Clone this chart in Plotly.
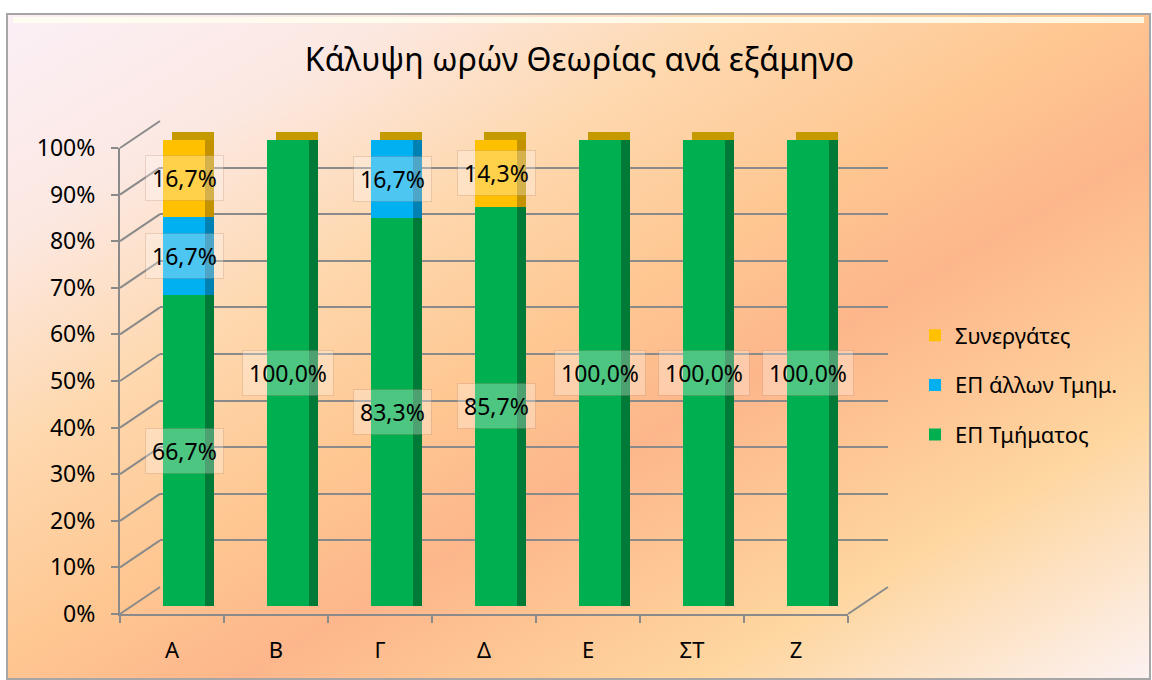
import base64
import plotly.graph_objects as go

# ---------------- data ----------------
categories = ["Α", "Β", "Γ", "Δ", "Ε", "ΣΤ", "Ζ"]
ep_tmimatos = [66.7, 100.0, 83.3, 85.7, 100.0, 100.0, 100.0]   # ΕΠ Τμήματος
ep_allon = [16.7, 0.0, 16.7, 0.0, 0.0, 0.0, 0.0]               # ΕΠ άλλων Τμημ.
synergates = [16.7, 0.0, 0.0, 14.3, 0.0, 0.0, 0.0]             # Συνεργάτες
series_names = ["ΕΠ Τμήματος", "ΕΠ άλλων Τμημ.", "Συνεργάτες"]
y_tick_values = [0, 10, 20, 30, 40, 50, 60, 70, 80, 90, 100]
title_text = "Κάλυψη ωρών Θεωρίας ανά εξάμηνο"

# ---------------- styling / geometry ----------------
W, H = 1152, 680
FONT = "Noto Sans"
front_cols = ["#00B050", "#00B0F0", "#FFC000"]
side_cols = ["#007A37", "#0081B3", "#C29200"]
cap_col = "#C49A00"
grid_col = "#8A8A8A"

FX0, FX1 = 120, 848          # front axis x extent (px)
FY0, FY1 = 614, 148          # front axis: 0% and 100% (px)
BDX, BDY = 40, 27            # back wall offset
MDX, MDY = 12, 8             # bar (middle depth) offset
SDX, SDY = 9, 8              # bar side/top depth


def xd(a, b):
    return [a / W, b / W]


def yd(zero_px, one_px):
    return [1 - zero_px / H, 1 - one_px / H]


series = [ep_tmimatos, ep_allon, synergates]
fr = [[v / 100 for v in s] for s in series]
totals = [sum(vals) for vals in zip(*fr)]

fig = go.Figure()

# back wall gridlines (subplot xy)
fig.add_trace(go.Scatter(x=[0], y=[0], mode="markers", marker=dict(opacity=0),
                         hoverinfo="skip", showlegend=False, xaxis="x", yaxis="y"))
# gold top cap (x2y2)
fig.add_trace(go.Bar(x=categories, y=totals, marker=dict(color=cap_col, line=dict(width=0)),
                     showlegend=False, hoverinfo="skip", xaxis="x2", yaxis="y2"))
# dark sides (x3y3)
for s, c in zip(fr, side_cols):
    fig.add_trace(go.Bar(x=categories, y=s, marker=dict(color=c, line=dict(width=0)),
                         showlegend=False, hoverinfo="skip", xaxis="x3", yaxis="y3"))
# front faces (x4y4)
ranks = [3, 2, 1]
for s, c, n, r in zip(fr, front_cols, series_names, ranks):
    fig.add_trace(go.Bar(x=categories, y=s, name=n, legendgroup=n, legendrank=r,
                         marker=dict(color=c, line=dict(width=0)),
                         xaxis="x4", yaxis="y4"))
# front axes (x5y5)
fig.add_trace(go.Scatter(x=categories, y=[0] * len(categories), mode="markers",
                         marker=dict(opacity=0), hoverinfo="skip", showlegend=False,
                         xaxis="x5", yaxis="y5"))

bargap = 0.6
cat_range = [-0.5, len(categories) - 0.5]


def hx(n):
    return dict(visible=False, type="category", range=cat_range, fixedrange=True,
                automargin=False, anchor=f"y{n}")


def hy(n):
    return dict(visible=False, range=[0, 1], fixedrange=True, automargin=False,
                anchor=f"x{n}")


layout = dict(
    template="none",
    width=W, height=H, autosize=False,
    margin=dict(l=0, r=0, t=0, b=0, pad=0),
    paper_bgcolor="white", plot_bgcolor="rgba(0,0,0,0)",
    barmode="stack", bargap=bargap,
    font=dict(family=FONT, color="#000000", size=20),
    title=dict(text=title_text, x=0.503, xanchor="center", y=1 - 60 / H, yanchor="middle",
               xref="paper", yref="paper", automargin=False,
               font=dict(family=FONT, size=32, color="#000000")),
    xaxis=dict(domain=xd(FX0 + BDX, FX1 + BDX), visible=False, range=[0, 1],
               automargin=False, anchor="y"),
    yaxis=dict(domain=yd(FY0 - BDY, FY1 - BDY), range=[0, 1], showgrid=True, automargin=False,
               anchor="x",
               tickvals=[v / 100 for v in y_tick_values], gridcolor=grid_col, gridwidth=2,
               showticklabels=False, zeroline=False, showline=False, ticks=""),
    xaxis2=dict(domain=xd(FX0 + MDX + SDX, FX1 + MDX + SDX), **hx(2)),
    yaxis2=dict(domain=yd(FY0 - MDY - SDY, FY1 - MDY - SDY), **hy(2)),
    xaxis3=dict(domain=xd(FX0 + MDX + SDX, FX1 + MDX + SDX), **hx(3)),
    yaxis3=dict(domain=yd(FY0 - MDY, FY1 - MDY), **hy(3)),
    xaxis4=dict(domain=xd(FX0 + MDX, FX1 + MDX), **hx(4)),
    yaxis4=dict(domain=yd(FY0 - MDY, FY1 - MDY), **hy(4)),
    xaxis5=dict(domain=xd(FX0, FX1), type="category", range=cat_range, showgrid=False,
                automargin=False, anchor="y5",
                showline=True, linecolor=grid_col, linewidth=2, ticks="outside",
                tickson="boundaries", ticklen=7, tickwidth=2, tickcolor=grid_col,
                ticklabelstandoff=16, tickfont=dict(size=22), zeroline=False),
    yaxis5=dict(domain=yd(FY0, FY1), range=[0, 1], showgrid=False, zeroline=False,
                automargin=False, anchor="x5",
                showline=True, linecolor=grid_col, linewidth=2, ticks="outside",
                ticklen=7, tickwidth=2, tickcolor=grid_col,
                tickvals=[v / 100 for v in y_tick_values],
                ticktext=[f"{v}%" for v in y_tick_values],
                ticklabelstandoff=11, tickfont=dict(size=23)),
    legend=dict(x=915 / W, xanchor="left", y=1 - 385 / H, yanchor="middle",
                traceorder="grouped", tracegroupgap=18,
                bgcolor="rgba(0,0,0,0)", borderwidth=0, font=dict(size=22, family=FONT),
                itemwidth=30),
)
fig.update_layout(**layout)

# ---------------- background gradient (svg) ----------------
fx0, fy0, fx1, fy1 = 7, 14, 1150, 679
svg = f'''<svg xmlns="http://www.w3.org/2000/svg" width="{fx1-fx0}" height="{fy1-fy0}" viewBox="0 0 {fx1-fx0} {fy1-fy0}" preserveAspectRatio="none">
<defs><linearGradient id="g" x1="0" y1="0" x2="1" y2="1">
<stop offset="0" stop-color="#FBF0F7"/>
<stop offset="0.17" stop-color="#FCE8E2"/>
<stop offset="0.33" stop-color="#FED8AE"/>
<stop offset="0.48" stop-color="#FEC792"/>
<stop offset="0.6" stop-color="#FDB68B"/>
<stop offset="0.8" stop-color="#FED69F"/>
<stop offset="1" stop-color="#FCF2F2"/>
</linearGradient></defs>
<rect x="0" y="0" width="{fx1-fx0}" height="{fy1-fy0}" fill="url(#g)"/>
</svg>'''
uri = "data:image/svg+xml;base64," + base64.b64encode(svg.encode("utf-8")).decode("ascii")
fig.add_layout_image(dict(source=uri, xref="paper", yref="paper", x=fx0 / W, y=1 - fy0 / H,
                          sizex=(fx1 - fx0) / W, sizey=(fy1 - fy0) / H, sizing="stretch",
                          xanchor="left", yanchor="top", layer="below"))

shapes = []
# frame
shapes.append(dict(type="rect", xref="paper", yref="paper", x0=fx0 / W, x1=fx1 / W,
                   y0=1 - fy1 / H, y1=1 - fy0 / H, line=dict(color="#A6A6A6", width=2),
                   layer="below"))
shapes.append(dict(type="line", xref="paper", yref="paper", x0=(fx0 + 6) / W, x1=(fx1 - 6) / W,
                   y0=1 - (fy0 + 6) / H, y1=1 - (fy0 + 6) / H,
                   line=dict(color="rgba(255,255,240,0.85)", width=6), layer="below"))
# left wall diagonals
for v in y_tick_values:
    f = v / 100
    yf = FY0 - (FY0 - FY1) * f
    shapes.append(dict(type="line", xref="paper", yref="paper",
                       x0=FX0 / W, y0=1 - yf / H, x1=(FX0 + BDX) / W, y1=1 - (yf - BDY) / H,
                       line=dict(color=grid_col, width=2), layer="below"))
# floor right edge
shapes.append(dict(type="line", xref="paper", yref="paper",
                   x0=FX1 / W, y0=1 - FY0 / H, x1=(FX1 + BDX) / W, y1=1 - (FY0 - BDY) / H,
                   line=dict(color=grid_col, width=2), layer="below"))
fig.update_layout(shapes=shapes)

# ---------------- data labels ----------------
annotations = []
for si, s in enumerate(series):
    for ci, v in enumerate(s):
        if v <= 0:
            continue
        base = sum(series[k][ci] for k in range(si)) / 100
        mid = base + v / 200
        txt = f"{v:.1f}".replace(".", ",") + "%"
        annotations.append(dict(x=categories[ci], y=mid, xref="x4", yref="y4", text=txt,
                                showarrow=False,
                                font=dict(size=23, family=FONT, color="#000000"),
                                bgcolor="rgba(255,250,245,0.3)",
                                bordercolor="rgba(150,90,50,0.18)", borderwidth=1,
                                borderpad=6))
fig.update_layout(annotations=annotations)

fig.write_html("out.html", config={"displayModeBar": False},
               post_script="document.body.style.margin='0';")
